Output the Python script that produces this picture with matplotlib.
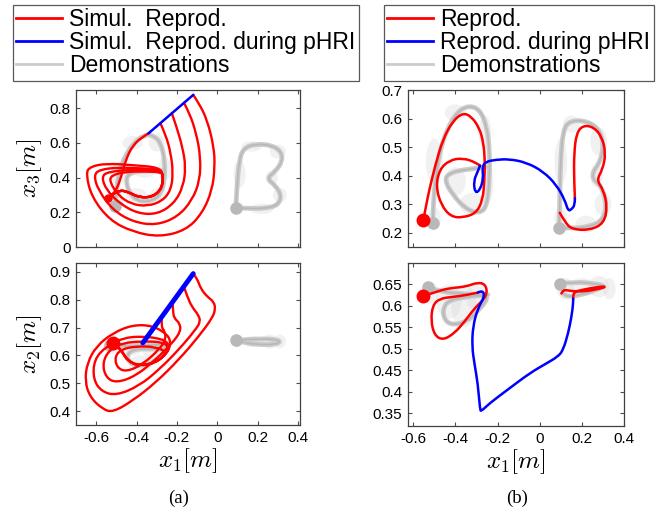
import matplotlib
matplotlib.use('Agg')
import matplotlib.pyplot as plt
from matplotlib.lines import Line2D
from matplotlib.patches import Ellipse, PathPatch
from matplotlib.path import Path
from matplotlib.ticker import FuncFormatter

plt.rcParams['font.family'] = ['Liberation Sans', 'DejaVu Sans']
plt.rcParams['mathtext.fontset'] = 'cm'
plt.rcParams['axes.unicode_minus'] = False

RED = (1.0, 0.0, 0.0)
BLUE = (0.0, 0.0, 1.0)
GRAY = (0.80, 0.80, 0.80)
GRAY_DARK = (0.72, 0.72, 0.72)

# ---------------- (a) simulated reproductions, x1-x3 plane ----------------
a13_blue = [(-0.341, 0.655), (-0.119, 0.877)]
a13_red = [
    [(-0.341, 0.655), (-0.369, 0.636), (-0.418, 0.588), (-0.454, 0.501),
     (-0.476, 0.405), (-0.500, 0.328), (-0.525, 0.299), (-0.541, 0.280)],
    [(-0.282, 0.714), (-0.255, 0.646), (-0.230, 0.540), (-0.219, 0.424),
     (-0.230, 0.328), (-0.271, 0.266), (-0.345, 0.235), (-0.427, 0.247),
     (-0.492, 0.299), (-0.533, 0.376), (-0.525, 0.414), (-0.451, 0.434),
     (-0.353, 0.436), (-0.279, 0.431)],
    [(-0.225, 0.771), (-0.202, 0.694), (-0.173, 0.578), (-0.156, 0.463),
     (-0.169, 0.347), (-0.214, 0.251), (-0.296, 0.189), (-0.394, 0.193),
     (-0.484, 0.251), (-0.549, 0.328), (-0.574, 0.405), (-0.541, 0.434),
     (-0.418, 0.447), (-0.283, 0.440)],
    [(-0.165, 0.831), (-0.137, 0.771), (-0.104, 0.655), (-0.083, 0.520),
     (-0.086, 0.386), (-0.124, 0.270), (-0.197, 0.173), (-0.304, 0.125),
     (-0.418, 0.145), (-0.517, 0.212), (-0.590, 0.328), (-0.612, 0.414),
     (-0.582, 0.447), (-0.484, 0.459), (-0.369, 0.453), (-0.284, 0.447)],
    [(-0.119, 0.877), (-0.091, 0.829), (-0.050, 0.733), (-0.017, 0.578),
     (-0.012, 0.463), (-0.025, 0.328), (-0.075, 0.193), (-0.156, 0.096),
     (-0.287, 0.058), (-0.418, 0.087), (-0.533, 0.154), (-0.623, 0.289),
     (-0.651, 0.424), (-0.631, 0.463), (-0.549, 0.482), (-0.418, 0.472),
     (-0.287, 0.459)],
]
a13_tail = [(-0.268, 0.414), (-0.274, 0.337), (-0.320, 0.289), (-0.386, 0.285),
            (-0.443, 0.318), (-0.484, 0.328), (-0.525, 0.299), (-0.541, 0.280)]
a13_end = (-0.541, 0.280)

# ---------------- (a) simulated reproductions, x1-x2 plane ----------------
a12_blue = [(-0.369, 0.645), (-0.119, 0.894)]
a12_red = [
    [(-0.275, 0.739), (-0.278, 0.702), (-0.260, 0.687), (-0.255, 0.657),
     (-0.287, 0.622), (-0.369, 0.568), (-0.451, 0.541), (-0.497, 0.556),
     (-0.508, 0.595), (-0.476, 0.622), (-0.402, 0.633), (-0.304, 0.631)],
    [(-0.222, 0.791), (-0.219, 0.758), (-0.214, 0.734), (-0.186, 0.716),
     (-0.181, 0.687), (-0.222, 0.645), (-0.304, 0.586), (-0.402, 0.527),
     (-0.500, 0.501), (-0.553, 0.521), (-0.569, 0.574), (-0.533, 0.622),
     (-0.468, 0.645), (-0.369, 0.651), (-0.271, 0.648), (-0.242, 0.631)],
    [(-0.165, 0.846), (-0.148, 0.811), (-0.127, 0.776), (-0.094, 0.746),
     (-0.083, 0.722), (-0.107, 0.693), (-0.189, 0.622), (-0.287, 0.550),
     (-0.386, 0.491), (-0.500, 0.456), (-0.574, 0.470), (-0.615, 0.515),
     (-0.610, 0.586), (-0.549, 0.633), (-0.468, 0.663), (-0.369, 0.669),
     (-0.271, 0.659), (-0.238, 0.639)],
    [(-0.119, 0.894), (-0.099, 0.876), (-0.083, 0.841), (-0.050, 0.811),
     (-0.017, 0.793), (-0.009, 0.766), (-0.025, 0.734), (-0.091, 0.669),
     (-0.189, 0.586), (-0.304, 0.503), (-0.418, 0.438), (-0.517, 0.396),
     (-0.566, 0.406), (-0.631, 0.450), (-0.656, 0.509), (-0.644, 0.574),
     (-0.599, 0.633), (-0.517, 0.681), (-0.418, 0.710), (-0.320, 0.707),
     (-0.246, 0.675), (-0.230, 0.645)],
]
a12_tail = [(-0.246, 0.610), (-0.304, 0.574), (-0.386, 0.562), (-0.443, 0.580),
            (-0.468, 0.610), (-0.492, 0.631), (-0.517, 0.645)]
a12_end = (-0.517, 0.645)

# ---------------- (b) robot reproductions ----------------
b13_red = [
    [(-0.552, 0.245), (-0.540, 0.292), (-0.524, 0.350), (-0.495, 0.438),
     (-0.460, 0.526), (-0.413, 0.591), (-0.365, 0.620), (-0.325, 0.608),
     (-0.286, 0.567), (-0.267, 0.515), (-0.260, 0.456), (-0.262, 0.385),
     (-0.270, 0.315), (-0.302, 0.268), (-0.365, 0.253), (-0.421, 0.256),
     (-0.468, 0.297), (-0.492, 0.362), (-0.476, 0.421), (-0.429, 0.454),
     (-0.365, 0.462), (-0.302, 0.446), (-0.283, 0.435)],
    [(0.167, 0.321), (0.163, 0.385), (0.163, 0.479), (0.175, 0.550),
     (0.206, 0.576), (0.254, 0.571), (0.294, 0.538), (0.314, 0.479),
     (0.298, 0.421), (0.270, 0.385), (0.302, 0.350), (0.321, 0.292),
     (0.305, 0.233), (0.238, 0.209), (0.151, 0.212), (0.119, 0.239),
     (0.095, 0.270)],
]
b13_blue = [(-0.283, 0.435), (-0.294, 0.415), (-0.314, 0.380), (-0.306, 0.338),
            (-0.283, 0.350), (-0.267, 0.391), (-0.273, 0.430), (-0.257, 0.449),
            (-0.206, 0.456), (-0.143, 0.458), (-0.063, 0.446), (0.016, 0.415),
            (0.079, 0.368), (0.119, 0.315), (0.135, 0.276), (0.151, 0.282),
            (0.167, 0.297), (0.167, 0.321)]
b13_start = (-0.552, 0.245)

b12_red = [
    [(-0.552, 0.624), (-0.524, 0.627), (-0.460, 0.638), (-0.413, 0.642),
     (-0.349, 0.645), (-0.294, 0.655), (-0.257, 0.650), (-0.249, 0.629),
     (-0.270, 0.613), (-0.310, 0.594), (-0.357, 0.563), (-0.405, 0.536),
     (-0.460, 0.520), (-0.500, 0.532), (-0.516, 0.566), (-0.508, 0.601),
     (-0.476, 0.617), (-0.413, 0.621), (-0.349, 0.625), (-0.294, 0.631)],
    [(0.159, 0.617), (0.156, 0.632), (0.206, 0.638), (0.286, 0.645),
     (0.317, 0.645), (0.286, 0.640), (0.206, 0.633), (0.143, 0.635),
     (0.111, 0.638), (0.103, 0.629)],
]
b12_blue = [(-0.294, 0.631), (-0.270, 0.637), (-0.262, 0.621), (-0.294, 0.594),
            (-0.317, 0.552), (-0.321, 0.505), (-0.310, 0.466), (-0.294, 0.420),
            (-0.283, 0.358), (-0.278, 0.354), (-0.238, 0.373), (-0.143, 0.408),
            (-0.048, 0.443), (0.032, 0.466), (0.087, 0.482), (0.111, 0.497),
            (0.135, 0.536), (0.151, 0.575), (0.159, 0.606), (0.159, 0.617)]
b12_start = (-0.552, 0.624)

# ---------------- demonstrations (letters "A" and "B") ----------------
demo13_a = [(-0.508, 0.235), (-0.500, 0.328), (-0.487, 0.424), (-0.459, 0.520),
            (-0.410, 0.607), (-0.353, 0.650), (-0.312, 0.640), (-0.279, 0.598),
            (-0.260, 0.501), (-0.261, 0.386), (-0.279, 0.308), (-0.320, 0.266),
            (-0.386, 0.260), (-0.435, 0.308), (-0.454, 0.386), (-0.435, 0.428),
            (-0.353, 0.440), (-0.271, 0.440)]
demo13_b = [(0.092, 0.226), (0.097, 0.347), (0.109, 0.501), (0.130, 0.569),
            (0.187, 0.594), (0.269, 0.588), (0.318, 0.549), (0.322, 0.492),
            (0.286, 0.434), (0.245, 0.395), (0.286, 0.357), (0.318, 0.299),
            (0.302, 0.241), (0.236, 0.222), (0.155, 0.222), (0.092, 0.226)]
demo12_a = [(-0.533, 0.636), (-0.451, 0.633), (-0.369, 0.636), (-0.287, 0.639),
            (-0.255, 0.633), (-0.263, 0.610), (-0.304, 0.580), (-0.369, 0.562),
            (-0.427, 0.568), (-0.451, 0.598), (-0.418, 0.622), (-0.337, 0.624),
            (-0.255, 0.622)]
demo12_b = [(0.092, 0.655), (0.171, 0.658), (0.269, 0.660), (0.318, 0.651),
            (0.286, 0.639), (0.204, 0.639), (0.139, 0.645), (0.120, 0.650)]

# robot demonstrations are the same letters, recorded on the arm
demo_b13_a = [(-0.508, 0.233), (-0.505, 0.303), (-0.495, 0.385), (-0.476, 0.479),
              (-0.441, 0.562), (-0.389, 0.626), (-0.333, 0.646), (-0.283, 0.630),
              (-0.251, 0.573), (-0.238, 0.491), (-0.238, 0.385), (-0.251, 0.292),
              (-0.286, 0.268), (-0.349, 0.282), (-0.413, 0.333), (-0.452, 0.385),
              (-0.429, 0.409), (-0.349, 0.423), (-0.254, 0.430)]
demo_b13_b = [(0.092, 0.218), (0.095, 0.292), (0.098, 0.444), (0.111, 0.562),
              (0.143, 0.591), (0.206, 0.594), (0.270, 0.573), (0.302, 0.526),
              (0.294, 0.456), (0.238, 0.397), (0.294, 0.362), (0.317, 0.303),
              (0.302, 0.245), (0.238, 0.221), (0.143, 0.215), (0.092, 0.218)]
demo_b12_a = [(-0.532, 0.643), (-0.460, 0.632), (-0.365, 0.629), (-0.286, 0.625),
              (-0.238, 0.621), (-0.302, 0.583), (-0.349, 0.563), (-0.413, 0.555),
              (-0.452, 0.567), (-0.460, 0.594), (-0.429, 0.614), (-0.333, 0.622),
              (-0.246, 0.626)]
demo_b12_b = [(0.095, 0.652), (0.175, 0.656), (0.254, 0.652), (0.310, 0.648),
              (0.270, 0.637), (0.190, 0.625), (0.127, 0.621), (0.111, 0.629)]

# gaussian components of the model: (x, y, width, height)
gmm13 = [(-0.50, 0.26, 0.07, 0.10), (-0.49, 0.42, 0.07, 0.14), (-0.42, 0.60, 0.10, 0.08),
         (-0.30, 0.60, 0.08, 0.10), (-0.26, 0.45, 0.06, 0.14), (-0.29, 0.30, 0.09, 0.08),
         (-0.40, 0.30, 0.10, 0.08), (-0.36, 0.43, 0.10, 0.06),
         (0.10, 0.23, 0.06, 0.06), (0.11, 0.42, 0.06, 0.16), (0.17, 0.58, 0.10, 0.06),
         (0.30, 0.55, 0.08, 0.08), (0.27, 0.40, 0.06, 0.08), (0.31, 0.30, 0.07, 0.08),
         (0.22, 0.22, 0.12, 0.06)]
gmm12 = [(-0.52, 0.63, 0.08, 0.05), (-0.42, 0.63, 0.10, 0.06), (-0.32, 0.62, 0.10, 0.07),
         (-0.38, 0.57, 0.12, 0.06),
         (0.10, 0.65, 0.06, 0.04), (0.18, 0.65, 0.10, 0.04), (0.26, 0.65, 0.08, 0.05),
         (0.31, 0.65, 0.06, 0.05)]
gmm_b13 = [(-0.50, 0.25, 0.06, 0.08), (-0.50, 0.45, 0.08, 0.16), (-0.40, 0.62, 0.10, 0.06),
           (-0.26, 0.55, 0.06, 0.12), (-0.25, 0.37, 0.06, 0.14), (-0.32, 0.30, 0.12, 0.08),
           (-0.40, 0.38, 0.10, 0.10),
           (0.10, 0.25, 0.06, 0.08), (0.10, 0.45, 0.06, 0.16), (0.15, 0.58, 0.08, 0.06),
           (0.28, 0.52, 0.08, 0.10), (0.27, 0.40, 0.06, 0.08), (0.30, 0.30, 0.08, 0.08),
           (0.22, 0.23, 0.10, 0.06)]
gmm_b12 = [(-0.52, 0.63, 0.08, 0.05), (-0.43, 0.61, 0.12, 0.08), (-0.36, 0.60, 0.12, 0.10),
           (-0.30, 0.62, 0.10, 0.06),
           (0.12, 0.64, 0.08, 0.05), (0.20, 0.645, 0.12, 0.04), (0.28, 0.645, 0.10, 0.05),
           (0.33, 0.64, 0.06, 0.05)]

x_ticks = [-0.6, -0.4, -0.2, 0, 0.2, 0.4]


def xy(pts):
    return [p[0] for p in pts], [p[1] for p in pts]


def curve(ax, pts, color, lw, zorder):
    # quadratic bezier through the waypoints (they act as control points)
    if len(pts) < 3:
        ax.plot(*xy(pts), color=color, lw=lw, zorder=zorder,
                solid_capstyle='round')
        return
    verts = [pts[0]]
    codes = [Path.MOVETO]
    for i in range(1, len(pts) - 1):
        if i < len(pts) - 2:
            end = ((pts[i][0] + pts[i + 1][0]) / 2, (pts[i][1] + pts[i + 1][1]) / 2)
        else:
            end = pts[i + 1]
        verts += [pts[i], end]
        codes += [Path.CURVE3, Path.CURVE3]
    ax.add_patch(PathPatch(Path(verts, codes), fill=False, edgecolor=color,
                           lw=lw, zorder=zorder, capstyle='round',
                           joinstyle='round'))


def draw_demos(ax, paths, gmm):
    for (cx, cy, w, h) in gmm:
        ax.add_patch(Ellipse((cx, cy), w, h, facecolor=(0.85, 0.85, 0.85),
                             edgecolor='none', alpha=0.35, zorder=1))
    for p in paths:
        curve(ax, p, GRAY, 3.5, 2)
        curve(ax, p, GRAY_DARK, 1.2, 2)
        ax.plot(p[0][0], p[0][1], 'o', color=GRAY_DARK, ms=8, zorder=2)


def style(ax, xlim, ylim, yticks, ylabel=None, bottom=False):
    ax.set_xlim(*xlim)
    ax.set_ylim(*ylim)
    ax.set_xticks(x_ticks)
    ax.set_yticks(yticks)
    fmt = FuncFormatter(lambda v, p: '%g' % round(v, 3))
    ax.xaxis.set_major_formatter(fmt)
    ax.yaxis.set_major_formatter(fmt)
    ax.tick_params(direction='in', top=True, right=True, length=3,
                   labelsize=11, pad=4, color='0.3')
    if not bottom:
        ax.tick_params(labelbottom=False)
    else:
        ax.set_xlabel(r'$x_1[m]$', fontsize=18, labelpad=1)
    if ylabel:
        ax.set_ylabel(ylabel, fontsize=18, labelpad=4)
    for s in ax.spines.values():
        s.set_color('0.25')
        s.set_linewidth(0.9)


fig = plt.figure(figsize=(6.62, 5.13), dpi=100)
ax_tl = fig.add_axes([0.1148, 0.5185, 0.3384, 0.3060])
ax_bl = fig.add_axes([0.1148, 0.1715, 0.3384, 0.3158])
ax_tr = fig.add_axes([0.6163, 0.5185, 0.3263, 0.3060])
ax_br = fig.add_axes([0.6163, 0.1696, 0.3263, 0.3177])

# (a) top: x1-x3
draw_demos(ax_tl, [demo13_a, demo13_b], gmm13)
for r in a13_red:
    pts = r if r[-1] == a13_end else r + a13_tail
    curve(ax_tl, pts, RED, 1.7, 3)
curve(ax_tl, a13_blue, BLUE, 1.8, 4)
ax_tl.plot(*a13_end, 'o', color=RED, ms=5, zorder=4)
style(ax_tl, (-0.7, 0.41), (0, 0.905), [0, 0.2, 0.4, 0.6, 0.8], r'$x_3[m]$')

# (a) bottom: x1-x2
draw_demos(ax_bl, [demo12_a, demo12_b], gmm12)
for r in a12_red:
    curve(ax_bl, r + a12_tail, RED, 1.7, 3)
curve(ax_bl, a12_blue, BLUE, 3.5, 4)
ax_bl.plot(*a12_end, 'o', color=RED, ms=9, zorder=4)
style(ax_bl, (-0.7, 0.41), (0.35, 0.932), [0.4, 0.5, 0.6, 0.7, 0.8, 0.9],
      r'$x_2[m]$', bottom=True)

# (b) top: x1-x3
draw_demos(ax_tr, [demo_b13_a, demo_b13_b], gmm_b13)
for r in b13_red:
    curve(ax_tr, r, RED, 1.8, 3)
curve(ax_tr, b13_blue, BLUE, 1.8, 4)
ax_tr.plot(*b13_start, 'o', color=RED, ms=9, zorder=4)
style(ax_tr, (-0.625, 0.4), (0.15, 0.7), [0.2, 0.3, 0.4, 0.5, 0.6, 0.7])

# (b) bottom: x1-x2
draw_demos(ax_br, [demo_b12_a, demo_b12_b], gmm_b12)
for r in b12_red:
    curve(ax_br, r, RED, 1.8, 3)
curve(ax_br, b12_blue, BLUE, 1.8, 4)
ax_br.plot(*b12_start, 'o', color=RED, ms=9, zorder=4)
style(ax_br, (-0.625, 0.4), (0.32, 0.7), [0.35, 0.4, 0.45, 0.5, 0.55, 0.6, 0.65],
      bottom=True)


def legend(labels, anchor):
    handles = [Line2D([], [], color=RED, lw=2),
               Line2D([], [], color=BLUE, lw=2),
               Line2D([], [], color=(0.8, 0.8, 0.8), lw=2)]
    leg = fig.legend(handles, labels, loc='upper left', bbox_to_anchor=anchor,
                     fontsize=16.5, labelspacing=0.0, borderpad=0.15,
                     handlelength=2.0, handletextpad=0.3, borderaxespad=0,
                     fancybox=False, framealpha=1)
    leg.get_frame().set_edgecolor('0.35')
    leg.get_frame().set_linewidth(0.9)


legend(['Simul.  Reprod.', 'Simul.  Reprod. during pHRI', 'Demonstrations'],
       (13 / 662, 1 - 5 / 513))
legend(['Reprod.', 'Reprod. during pHRI', 'Demonstrations'],
       (384 / 662, 1 - 5 / 513))

fig.text(179 / 662, 1 - 498 / 513, '(a)', ha='center', va='center',
         fontsize=13.5, family='Liberation Serif')
fig.text(517 / 662, 1 - 498 / 513, '(b)', ha='center', va='center',
         fontsize=13.5, family='Liberation Serif')

fig.savefig('out.png', dpi=100)
